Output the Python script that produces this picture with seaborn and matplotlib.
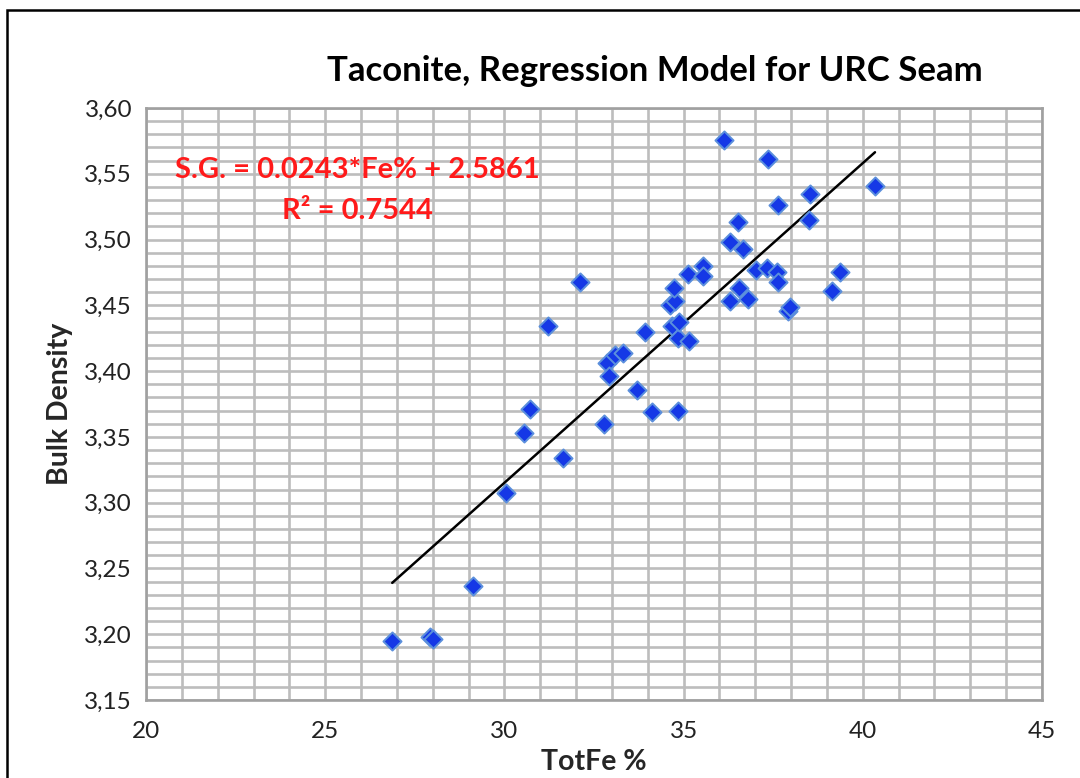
import numpy as np
import pandas as pd
import matplotlib
matplotlib.use("Agg")
import matplotlib.pyplot as plt
from matplotlib.ticker import FuncFormatter, MultipleLocator
from matplotlib.patches import Rectangle
import seaborn as sns

# ---- data ----
tot_fe = [26.87, 27.92, 28.00, 29.12, 30.04, 30.55, 30.71, 31.22, 31.64, 32.11,
          32.78, 32.86, 32.92, 33.09, 33.31, 33.70, 33.92, 34.12, 34.62, 34.68,
          34.76, 34.74, 34.84, 34.84, 34.87, 35.15, 35.12, 35.54, 35.54, 36.13,
          36.29, 36.29, 36.52, 36.55, 36.66, 36.80, 37.02, 37.33, 37.36, 37.61,
          37.63, 37.63, 37.91, 37.97, 38.50, 38.53, 39.14, 39.36, 40.34]
bulk_density = [3.195, 3.198, 3.196, 3.237, 3.307, 3.353, 3.371, 3.434, 3.334, 3.468,
                3.360, 3.406, 3.396, 3.412, 3.414, 3.386, 3.430, 3.369, 3.450, 3.434,
                3.453, 3.463, 3.370, 3.425, 3.437, 3.423, 3.474, 3.480, 3.472, 3.576,
                3.498, 3.453, 3.513, 3.463, 3.493, 3.455, 3.477, 3.478, 3.561, 3.475,
                3.468, 3.526, 3.446, 3.449, 3.515, 3.535, 3.461, 3.475, 3.541]
slope = 0.0243
intercept = 2.5861
r_squared = 0.7544

title = "Taconite, Regression Model for URC Seam"
x_label = "TotFe %"
y_label = "Bulk Density"

df = pd.DataFrame({"TotFe": tot_fe, "BD": bulk_density})
x_line = np.array([df["TotFe"].min(), df["TotFe"].max()])
line_df = pd.DataFrame({"x": x_line, "y": slope * x_line + intercept})

sns.set_theme(style="white")
plt.rcParams["font.family"] = ["Lato", "DejaVu Sans"]

fig = plt.figure(figsize=(10.8, 7.78), dpi=100)
ax = fig.add_axes([146 / 1080, 1 - 700 / 778, (1042 - 146) / 1080, (700 - 108) / 778])

grid_col = "#bdbdbd"
ax.set_xlim(20, 45)
ax.set_ylim(3.15, 3.60)
ax.xaxis.set_major_locator(MultipleLocator(5))
ax.xaxis.set_minor_locator(MultipleLocator(1))
ax.yaxis.set_major_locator(MultipleLocator(0.05))
ax.yaxis.set_minor_locator(MultipleLocator(0.01))
ax.grid(True, which="both", color=grid_col, linewidth=1.9)
ax.set_axisbelow(True)
ax.yaxis.set_major_formatter(FuncFormatter(lambda v, p: f"{v:.2f}".replace(".", ",")))
ax.xaxis.set_major_formatter(FuncFormatter(lambda v, p: f"{v:.0f}"))
ax.tick_params(axis="both", which="major", direction="out", length=7, width=1.5,
               color="#999999", labelsize=17.5, labelcolor="#222222", pad=3)
ax.tick_params(axis="x", which="major", pad=8)
ax.tick_params(which="minor", length=0)
for s in ax.spines.values():
    s.set_color("#a0a0a0")
    s.set_linewidth(1.9)

sns.lineplot(data=line_df, x="x", y="y", color="black", linewidth=1.8, ax=ax, zorder=3)
sns.scatterplot(data=df, x="TotFe", y="BD", marker="D", s=85, color="#1538e6",
                edgecolor="#5b8fdc", linewidth=1.4, ax=ax, zorder=4)

ax.set_xlabel(x_label, fontsize=20.5, fontweight="bold", labelpad=5)
ax.set_ylabel(y_label, fontsize=20.5, fontweight="bold", labelpad=8)

fig.text(655 / 1080, 1 - 71 / 778, title, ha="center", va="center",
         fontsize=25, fontweight="bold", color="black")
fig.text(357 / 1080, 1 - 170 / 778, f"S.G. = {slope:.4f}*Fe% + {intercept:.4f}",
         ha="center", va="center", fontsize=21, fontweight="bold", color="#ff1a1a")
fig.text(357 / 1080, 1 - 211 / 778, f"R² = {r_squared:.4f}",
         ha="center", va="center", fontsize=21, fontweight="bold", color="#ff1a1a")

fig.patches.append(Rectangle((7 / 1080, -0.05), 1.2, 1 - 10 / 778 + 0.05,
                             transform=fig.transFigure, fill=False,
                             edgecolor="black", linewidth=1.8))

fig.savefig("out.png", dpi=100)
